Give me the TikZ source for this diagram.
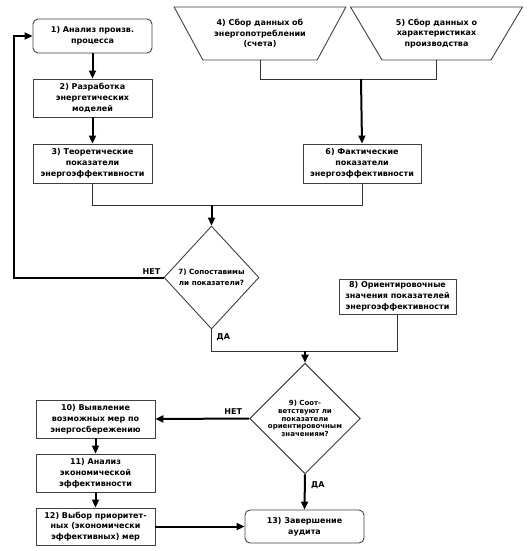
\documentclass[tikz,border=0pt]{standalone}
\usepackage{fontspec}
\setmainfont{DejaVu Sans}
\usetikzlibrary{shapes.geometric,arrows.meta}
\tikzset{
  x=1pt,y=-1pt,
  boxline/.style={draw=black!75,line width=0.9pt},
  txt/.style={font=\bfseries\fontsize{8}{10.8}\selectfont,align=center,inner sep=0pt},
  pbox/.style={boxline,txt,rectangle,minimum width=119pt},
  rbox/.style={pbox,rounded corners=5pt},
  dia/.style={boxline,txt,diamond,inner sep=0pt},
  trap/.style={boxline,txt,trapezium,shape border rotate=180,trapezium stretches=true,
    trapezium angle=51.6,minimum width=172pt,minimum height=53pt},
  thin/.style={draw=black!80,line width=0.9pt},
  thick/.style={draw=black,line width=2pt},
  arr/.style={thick,-{Triangle[length=8pt,width=7pt]}},
  lab/.style={font=\bfseries\fontsize{8}{10}\selectfont,inner sep=0pt}
}
\begin{document}
\begin{tikzpicture}
\useasboundingbox (0,0) rectangle (527,551);
\node[rbox,minimum height=34pt] (b1) at (92.5,36) {1) Анализ произв.\\процесса};
\node[pbox,minimum height=38pt] (b2) at (92.5,98) {2) Разработка\\энергетических\\моделей};
\node[pbox,minimum height=39pt] (b3) at (92.5,163.5) {3) Теоретические\\показатели\\энергоэффективности};
\node[trap] (t4) at (260,33.5) {4) Сбор данных об\\энергопотреблении\\(счета)};
\node[trap] (t5) at (436.5,33.5) {5) Сбор данных о\\характеристиках\\производства};
\node[pbox,minimum width=118pt,minimum height=39pt] (b6) at (362,163.5) {6) Фактические\\показатели\\энергоэффективности};
\node[dia,minimum width=95pt,minimum height=103pt,font=\bfseries\fontsize{7.2}{10.7}\selectfont] (d7) at (211.5,277.5) {7) Сопоставимы\\ли показатели?};
\node[pbox,minimum width=117pt,minimum height=35pt] (b8) at (397.5,296.5) {8) Ориентировочные\\значения показателей\\энергоэффективности};
\node[dia,minimum width=96pt,minimum height=103pt,font=\bfseries\fontsize{7}{7.8}\selectfont] (d9) at (305,418.5) {9) Соот-\\ветствуют ли\\показатели\\ориентировочным\\значениям?};
\node[pbox,minimum height=38pt] (b10) at (95.5,419) {10) Выявление\\возможных мер по\\энергосбережению};
\node[pbox,minimum height=38pt] (b11) at (95.5,473) {11) Анализ\\экономической\\эффективности};
\node[pbox,minimum height=37pt] (b12) at (95.5,526.5) {12) Выбор приоритет-\\ных (экономически\\эффективных) мер};
\node[rbox,minimum height=33pt] (b13) at (304.5,526.5) {13) Завершение\\аудита};

\coordinate (j1) at (211.5,205);
\coordinate (j2) at (361,79);
\coordinate (j3) at (305,351);
\coordinate (lx) at (14,0);

\draw[arr] (b1) -- (b2);
\draw[arr] (b2) -- (b3);
\draw[thin] (b3.south) |- (j1);
\draw[thin] (b6.south) |- (j1);
\draw[arr] (j1) -- (d7.north);
\draw[thin] (t4.south) |- (j2);
\draw[thin] (t5.south) |- (j2);
\draw[arr] (j2) -- (b6.north);
\draw[arr] (d7.west) -- (d7.west -| lx) |- (b1.west);
\draw[thin] (d7.south) |- (j3);
\draw[thin] (b8.south) |- (j3);
\draw[arr] (j3) -- (d9.north);
\draw[arr] (d9.west) -- (b10.east);
\draw[arr] (b10) -- (b11);
\draw[arr] (b11) -- (b12);
\draw[arr] (b12) -- (b13);
\draw[arr] (d9.south) -- (b13.north);

\node[lab,anchor=south east] (n7) at ([xshift=-3pt,yshift=3pt]d7.west) {НЕТ};
\node[lab,anchor=west] (y7) at ([xshift=5pt,yshift=-8pt]d7.south) {ДА};
\node[lab,anchor=south east] (n9) at ([xshift=-7pt,yshift=4pt]d9.west) {НЕТ};
\node[lab,anchor=west] (y9) at ([xshift=6pt,yshift=-11pt]d9.south) {ДА};
\end{tikzpicture}
\end{document}
